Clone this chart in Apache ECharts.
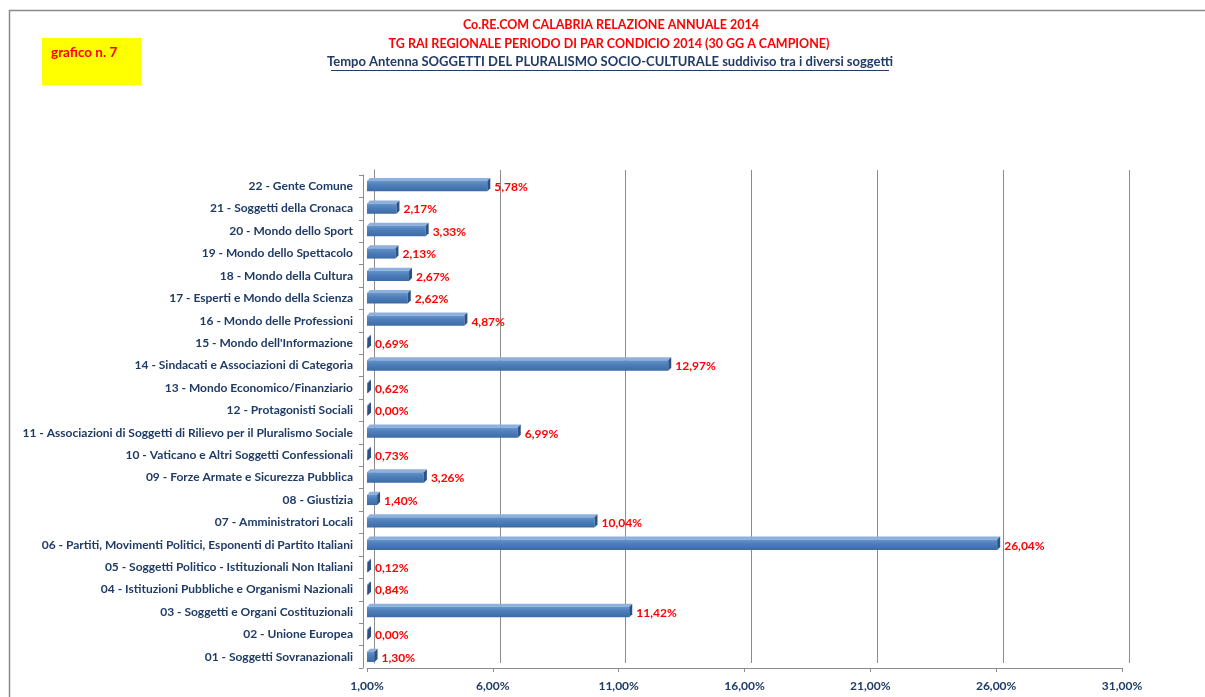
<!DOCTYPE html>
<html>
<head>
<meta charset="utf-8">
<script src="https://cdn.jsdelivr.net/npm/echarts@6/dist/echarts.min.js"></script>
<style>
  html, body { margin: 0; padding: 0; background: #fff; }
  #chart { width: 1205px; height: 697px; }
</style>
</head>
<body>
<div id="chart"></div>
<script>
// categorie (dal basso verso l'alto, come l'asse category di echarts)
const categories = [
    '01 - Soggetti Sovranazionali',
    '02 - Unione Europea',
    '03 - Soggetti e Organi Costituzionali',
    '04 - Istituzioni Pubbliche e Organismi Nazionali',
    '05 - Soggetti Politico - Istituzionali Non Italiani',
    '06 - Partiti, Movimenti Politici, Esponenti di Partito Italiani',
    '07 - Amministratori Locali',
    '08 - Giustizia',
    '09 - Forze Armate e Sicurezza Pubblica',
    '10 - Vaticano e Altri Soggetti Confessionali',
    '11 - Associazioni di Soggetti di Rilievo per il Pluralismo Sociale',
    '12 - Protagonisti Sociali',
    '13 - Mondo Economico/Finanziario',
    '14 - Sindacati e Associazioni di Categoria',
    '15 - Mondo dell\'Informazione',
    '16 - Mondo delle Professioni',
    '17 - Esperti e Mondo della Scienza',
    '18 - Mondo della Cultura',
    '19 - Mondo dello Spettacolo',
    '20 - Mondo dello Sport',
    '21 - Soggetti della Cronaca',
    '22 - Gente Comune',
]

// tempo antenna in %
const values = [1.30, 0.00, 11.42, 0.84, 0.12, 26.04, 10.04, 1.40, 3.26, 0.73, 6.99,
    0.00, 0.62, 12.97, 0.69, 4.87, 2.62, 2.67, 2.13, 3.33, 2.17, 5.78]

// asse x: 1,00% ... 31,00% passo 5
const X_MIN = 1
const X_MAX = 31
const X_STEP = 5

const titleLines = [
    'Co.RE.COM CALABRIA RELAZIONE ANNUALE 2014',
    'TG RAI REGIONALE PERIODO DI PAR CONDICIO 2014 (30 GG A CAMPIONE)',
    'Tempo Antenna SOGGETTI DEL PLURALISMO SOCIO-CULTURALE suddiviso tra i diversi soggetti',
]

const FONT = 'Lato, "Open Sans", sans-serif'
const NAVY = '#1f3b66'

function pct(v) {
    return v.toFixed(2).replace('.', ',') + '%'
}

// barra "3D" stile Excel, disegnata con le scale degli assi
function renderBar(params, api) {
    const v = api.value(0)
    const cat = api.value(1)
    const start = api.coord([X_MIN, cat])
    const end = api.coord([Math.max(v, X_MIN), cat])
    const band = api.size([0, 1])[1]
    const h = band * 0.46
    const d = 3
    const x0 = start[0]
    const x1 = Math.max(end[0], x0 + 1)
    const yc = start[1]
    const top = yc - h / 2
    return {
        type: 'group',
        children: [
            {
                type: 'polygon',
                shape: { points: [[x0, top], [x0 + d, top - d], [x1 + d, top - d], [x1, top]] },
                style: { fill: '#8eb0dc' },
            },
            {
                type: 'rect',
                shape: { x: x0, y: top, width: x1 - x0, height: h },
                style: {
                    fill: new echarts.graphic.LinearGradient(0, 0, 0, 1, [
                        { offset: 0, color: '#6993cb' },
                        { offset: 0.35, color: '#4f81bd' },
                        { offset: 1, color: '#3d6aa3' },
                    ]),
                },
            },
            {
                type: 'polygon',
                shape: { points: [[x1, top], [x1 + d, top - d], [x1 + d, top + h - d], [x1, top + h]] },
                style: { fill: '#2c5285' },
            },
            {
                type: 'text',
                style: {
                    text: pct(v),
                    x: x1 + d + 4,
                    y: yc + 1,
                    fill: '#ff0000',
                    font: 'bold 12px ' + FONT,
                    verticalAlign: 'middle',
                },
            },
        ],
    }
}

const mychart = echarts.init(document.getElementById('chart'))

let option = {
    animation: false,
    backgroundColor: '#fff',
    grid: [
        // parete frontale
        { left: 367, right: 83, top: 175, bottom: 29 },
        // parete di fondo (griglia spostata per l'effetto 3D)
        { left: 374, right: 76, top: 170, bottom: 34 },
    ],
    xAxis: [
        {
            gridIndex: 0,
            type: 'value',
            min: X_MIN,
            max: X_MAX,
            interval: X_STEP,
            axisLine: { show: true, lineStyle: { color: '#8c8c8c', width: 1 } },
            axisTick: { show: true, length: 4, lineStyle: { color: '#8c8c8c' } },
            splitLine: { show: false },
            axisLabel: {
                color: NAVY,
                fontFamily: FONT,
                fontWeight: 'bold',
                fontSize: 12,
                margin: 12,
                formatter: (v) => pct(v),
            },
        },
        {
            gridIndex: 1,
            type: 'value',
            min: X_MIN,
            max: X_MAX,
            interval: X_STEP,
            axisLine: { show: false },
            axisTick: { show: false },
            axisLabel: { show: false },
            splitLine: { show: true, lineStyle: { color: '#8c8c8c', width: 1 } },
        },
    ],
    yAxis: [
        {
            gridIndex: 0,
            type: 'category',
            data: categories,
            offset: 4,
            axisLine: { show: true, lineStyle: { color: '#8c8c8c', width: 1 } },
            axisTick: { show: true, length: 4, lineStyle: { color: '#8c8c8c' } },
            axisLabel: {
                color: NAVY,
                fontFamily: FONT,
                fontWeight: 'bold',
                fontSize: 12,
                margin: 10,
            },
        },
        {
            gridIndex: 1,
            type: 'category',
            data: categories,
            axisLine: { show: true, lineStyle: { color: '#8c8c8c', width: 1 } },
            axisTick: { show: false },
            axisLabel: { show: false },
        },
    ],
    series: [
        {
            name: 'Tempo Antenna',
            type: 'custom',
            xAxisIndex: 0,
            yAxisIndex: 0,
            renderItem: renderBar,
            encode: { x: 0, y: 1 },
            clip: false,
            data: values.map((v, i) => [v, i]),
        },
    ],
    graphic: [
        // cornice
        { type: 'line', shape: { x1: 9, y1: 10.5, x2: 1205, y2: 10.5 }, style: { stroke: '#8a8a8a', lineWidth: 1.5 } },
        { type: 'line', shape: { x1: 9.5, y1: 10, x2: 9.5, y2: 697 }, style: { stroke: '#8a8a8a', lineWidth: 1.5 } },
        // etichetta gialla
        { type: 'rect', shape: { x: 42, y: 38, width: 99, height: 47 }, style: { fill: '#ffff00' } },
        {
            type: 'text',
            style: { text: 'grafico n. 7', x: 51, y: 53, fill: '#ff0000', font: 'bold 13.5px ' + FONT, verticalAlign: 'middle' },
        },
        // titolo
        {
            type: 'text',
            style: { text: titleLines[0], x: 611, y: 25, fill: '#ff0000', font: 'bold 12.5px ' + FONT, align: 'center', verticalAlign: 'middle' },
        },
        {
            type: 'text',
            style: { text: titleLines[1], x: 609, y: 44, fill: '#ff0000', font: 'bold 12.5px ' + FONT, align: 'center', verticalAlign: 'middle' },
        },
        {
            type: 'text',
            style: { text: titleLines[2], x: 610, y: 62, fill: NAVY, font: 'bold 13px ' + FONT, align: 'center', verticalAlign: 'middle' },
        },
        { type: 'line', shape: { x1: 331, y1: 70.5, x2: 889, y2: 70.5 }, style: { stroke: NAVY, lineWidth: 1 } },
    ],
}

mychart.setOption(option)
</script>
</body>
</html>
